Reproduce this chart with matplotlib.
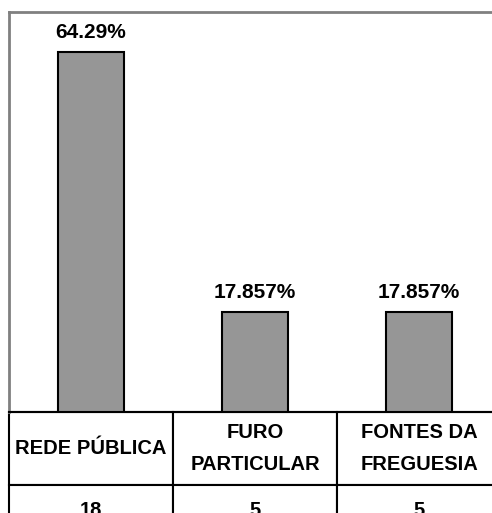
import numpy as np
import matplotlib.pyplot as plt

plt.rcParams['font.family'] = ['Liberation Sans', 'DejaVu Sans']

categories = ['REDE PÚBLICA', 'FURO\nPARTICULAR', 'FONTES DA\nFREGUESIA']
counts = [18, 5, 5]
percent = [64.29, 17.857, 17.857]
percent_labels = ['64.29%', '17.857%', '17.857%']

W, H = 492, 513
fig = plt.figure(figsize=(W / 100, H / 100), dpi=100)
ax = fig.add_axes([9 / W, 101 / H, 492 / W, 400 / H])

x = np.arange(len(categories))
ax.bar(x, percent, width=0.4, color='#969696', edgecolor='black', linewidth=1.5, zorder=3)
for xi, p, lab in zip(x, percent, percent_labels):
    ax.annotate(lab, (xi, p), xytext=(0, 7), textcoords='offset points',
                ha='center', va='bottom', fontsize=15, fontweight='bold')

ax.set_xlim(-0.5, 2.5)
ax.set_ylim(0, 71.43)
ax.set_xticks([])
ax.set_yticks([])
for s in ['left', 'top']:
    ax.spines[s].set_color('#808080')
    ax.spines[s].set_linewidth(2)
ax.spines['bottom'].set_color('black')
ax.spines['bottom'].set_linewidth(1.5)
ax.spines['right'].set_visible(False)

tab_h = 73 + 52
tab = ax.table(cellText=[[str(c) for c in counts]], colLabels=categories,
               cellLoc='center', bbox=[0, -tab_h / 400, 1, tab_h / 400])
tab.auto_set_font_size(False)
for (r, c), cell in tab.get_celld().items():
    cell.set_linewidth(1.5)
    cell.set_edgecolor('black')
    cell.set_height(73 if r == 0 else 52)
    t = cell.get_text()
    t.set_fontsize(14.5)
    t.set_fontweight('bold')
    t.set_linespacing(1.9)

fig.savefig('out.png', dpi=100)
